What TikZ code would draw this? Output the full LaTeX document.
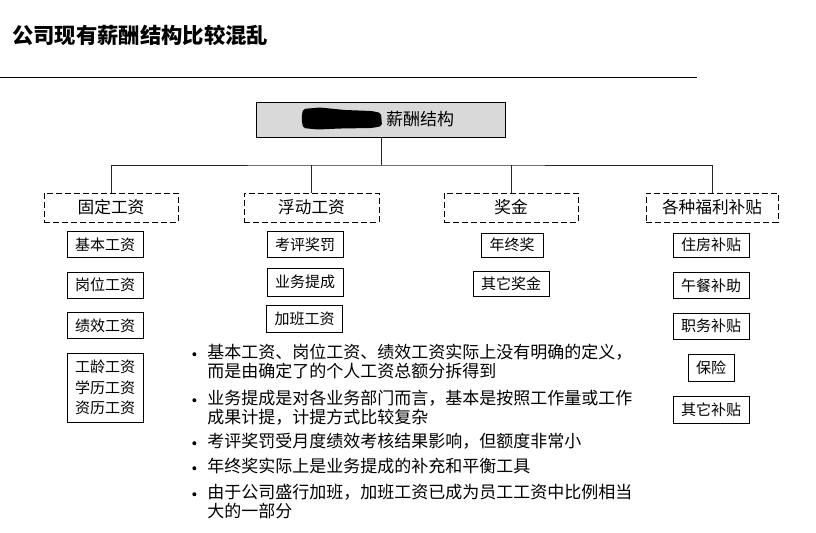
\documentclass[tikz,border=0pt]{standalone}
\usepackage{fontspec}
\setmainfont{Noto Sans CJK SC}
\definecolor{boxgray}{HTML}{D9D9D9}
\begin{document}
\begin{tikzpicture}[x=0.75pt,y=-0.75pt,
  every node/.style={inner sep=0pt},
  sub/.style={draw,line width=0.75pt,minimum width=57pt,minimum height=19.5pt,
    font=\fontsize{11.25pt}{15.4pt}\selectfont,align=center},
  grp/.style={draw,dash pattern=on 4.5pt off 2.25pt,line width=0.75pt,
    minimum height=21.75pt,font=\fontsize{12.5pt}{14pt}\selectfont},
  conn/.style={line width=0.75pt,draw=black!85},
  btxt/.style={anchor=base west,font=\fontsize{12.75pt}{14pt}\selectfont},
]
\useasboundingbox (0,0) rectangle (816,532);

% title and rule
\node[anchor=west,font=\bfseries\fontsize{16pt}{18pt}\selectfont] (title) at (12,35) {公司现有薪酬结构比较混乱};
\coordinate (r1) at (0,77);
\coordinate (r2) at (697,77);
\draw[line width=0.75pt] (r1) -- (r2);

% top box
\node[draw,fill=boxgray,line width=0.75pt,minimum width=186.75pt,minimum height=26.25pt] (top) at (381,119.5) {};
\node[font=\fontsize{12.75pt}{14pt}\selectfont] (toptxt) at (420,119.5) {薪酬结构};
\fill[black,rounded corners=1.5pt] (303,109) -- (320,107.5) -- (345,110) -- (372,111) -- (381,113) -- (382,126) -- (372,128) -- (340,128.5) -- (318,129.5) -- (303,128) -- (301.5,118) -- cycle;

% groups
\node[grp,minimum width=100.5pt] (g1) at (111,207.5) {固定工资};
\node[grp,minimum width=101.25pt] (g2) at (311.5,207.5) {浮动工资};
\node[grp,minimum width=100.5pt] (g3) at (511,207.5) {奖金};
\node[grp,minimum width=99pt] (g4) at (712,207.5) {各种福利补贴};

% connectors
\coordinate (bus) at (381,165);
\draw[conn] (top.south) -- (bus);
\draw[conn] (g1.north) |- (bus) -| (g4.north);
\draw[conn] (g2.north) -- (g2.north |- bus);
\draw[conn] (g3.north) -- (g3.north |- bus);

% column 1
\node[sub] (a1) at (105,244.5) {基本工资};
\node[sub] (a2) at (105,285) {岗位工资};
\node[sub] (a3) at (105,325.5) {绩效工资};
\node[sub,minimum height=51.75pt] (a4) at (105,387.5) {工龄工资\\学历工资\\资历工资};

% column 2
\node[sub] (b1) at (305,244.5) {考评奖罚};
\node[sub,minimum height=21pt] (b2) at (305,282) {业务提成};
\node[sub,minimum height=20.25pt] (b3) at (304.5,318.5) {加班工资};

% column 3
\node[sub,minimum width=46.5pt,minimum height=18pt] (c1) at (512,245) {年终奖};
\node[sub,minimum height=18.75pt] (c2) at (511,283.5) {其它奖金};

% column 4
\node[sub,minimum height=18pt] (d1) at (711,245) {住房补贴};
\node[sub] (d2) at (711,285.5) {午餐补助};
\node[sub] (d3) at (711,326) {职务补贴};
\node[sub,minimum width=34.5pt,minimum height=20.25pt] (d4) at (711,367.5) {保险};
\node[sub,minimum height=20.25pt] (d5) at (711,409.5) {其它补贴};

% bullet text
\node[btxt] (t1a) at (207,358.5) {基本工资、岗位工资、绩效工资实际上没有明确的定义，};
\node[btxt] (t1b) at (207,377) {而是由确定了的个人工资总额分拆得到};
\node[btxt] (t2a) at (207,404.5) {业务提成是对各业务部门而言，基本是按照工作量或工作};
\node[btxt] (t2b) at (207,423) {成果计提，计提方式比较复杂};
\node[btxt] (t3a) at (207,447.5) {考评奖罚受月度绩效考核结果影响，但额度非常小};
\node[btxt] (t4a) at (207,472.5) {年终奖实际上是业务提成的补充和平衡工具};
\node[btxt] (t5a) at (207,498.5) {由于公司盛行加班，加班工资已成为员工工资中比例相当};
\node[btxt] (t5b) at (207,517) {大的一部分};
\foreach \n in {t1a,t2a,t3a,t4a,t5a}
  \fill ([xshift=-9.5pt,yshift=3.2pt]\n.base west) circle (1.5pt);
\end{tikzpicture}
\end{document}
